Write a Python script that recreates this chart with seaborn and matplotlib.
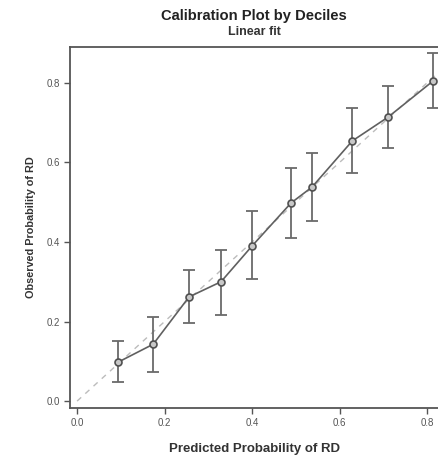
import matplotlib
matplotlib.use("Agg")
import matplotlib.pyplot as plt
import seaborn as sns
import pandas as pd

# Decile summaries: mean predicted probability, observed proportion and 95% CI
predicted = [0.094, 0.174, 0.256, 0.329, 0.400, 0.489, 0.537, 0.629, 0.711, 0.814]
observed = [0.098, 0.143, 0.262, 0.300, 0.390, 0.498, 0.538, 0.654, 0.714, 0.805]
ci_lower = [0.048, 0.073, 0.196, 0.216, 0.307, 0.410, 0.453, 0.574, 0.636, 0.737]
ci_upper = [0.151, 0.211, 0.330, 0.380, 0.478, 0.586, 0.624, 0.737, 0.792, 0.875]

x_ticks = [0.0, 0.2, 0.4, 0.6, 0.8]
y_ticks = [0.0, 0.2, 0.4, 0.6, 0.8]

df = pd.DataFrame({"predicted": predicted, "observed": observed,
                   "lower": ci_lower, "upper": ci_upper})

sns.set_theme(style="white")
plt.rcParams["font.family"] = ["Liberation Sans", "DejaVu Sans"]

fig = plt.figure(figsize=(4.38, 4.57), dpi=100)
ax = fig.add_axes([0.16, 0.107, 0.84, 0.790])

# reference diagonal (perfect calibration)
ax.plot([0, 1], [0, 1], color="#bcbcbc", lw=1.0, ls=(0, (4, 4)), zorder=1)

# confidence intervals
ax.errorbar(df["predicted"], df["observed"],
            yerr=[df["observed"] - df["lower"], df["upper"] - df["observed"]],
            fmt="none", ecolor="#6a6a6a", elinewidth=1.3, capsize=4,
            capthick=1.3, zorder=2)

# observed vs predicted line with open markers
sns.lineplot(data=df, x="predicted", y="observed", ax=ax, color="#606060",
             lw=1.2, marker="o", markersize=5, markerfacecolor="#c8c8c8",
             markeredgecolor="#505050", markeredgewidth=1.2, zorder=3,
             sort=False)

ax.set_xlim(-0.016, 0.825)
ax.set_ylim(-0.0176, 0.89)
ax.set_xticks(x_ticks)
ax.set_yticks(y_ticks)
ax.set_xticklabels([f"{v:.1f}" for v in x_ticks])
ax.set_yticklabels([f"{v:.1f}" for v in y_ticks])

for side in ["left", "bottom", "top"]:
    ax.spines[side].set_color("#555555")
    ax.spines[side].set_linewidth(1.3)
ax.spines["right"].set_visible(False)

ax.tick_params(axis="both", which="major", direction="out", length=4,
               width=1.0, color="#555555", labelsize=7, labelcolor="#555555",
               bottom=True, left=True, pad=3)

ax.set_xlabel("Predicted Probability of RD", fontsize=9.5, fontweight="bold",
              color="#333333", labelpad=11)
ax.set_ylabel("Observed Probability of RD", fontsize=7.8, fontweight="bold",
              color="#333333", labelpad=8)

fig.text(0.58, 0.966, "Calibration Plot by Deciles", ha="center", va="center",
         fontsize=10.6, fontweight="bold", color="#222222")
fig.text(0.58, 0.93, "Linear fit", ha="center", va="center",
         fontsize=9, fontweight="bold", color="#333333")

fig.savefig("out.png", dpi=100)
